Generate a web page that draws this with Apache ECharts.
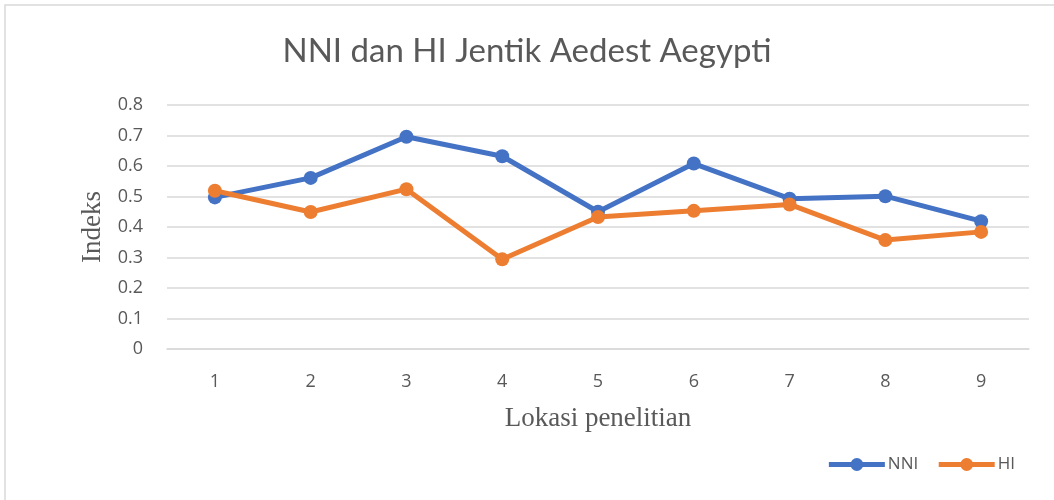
<!DOCTYPE html>
<html>
<head>
<meta charset="utf-8">
<script src="https://cdn.jsdelivr.net/npm/echarts@6/dist/echarts.min.js"></script>
<style>
  html, body { margin: 0; padding: 0; background: #fff; }
  #chart { width: 1054px; height: 500px; }
</style>
</head>
<body>
<div id="chart"></div>
<script>
// data
var lokasi = ['1', '2', '3', '4', '5', '6', '7', '8', '9'];
var nniData = [0.497, 0.561, 0.696, 0.632, 0.450, 0.608, 0.493, 0.501, 0.419];
var hiData = [0.519, 0.449, 0.524, 0.294, 0.433, 0.453, 0.474, 0.357, 0.384];

var chart = echarts.init(document.getElementById('chart'));

var option = {
    backgroundColor: '#fff',
    color: ['#4472C4', '#ED7D31'],
    title: {
        text: 'NNI dan HI Jentik Aedest Aegypti',
        left: 'center',
        top: 30,
        textStyle: {
            fontFamily: 'Lato',
            fontWeight: 'normal',
            fontSize: 33,
            color: '#595959'
        }
    },
    legend: {
        right: 34,
        top: 451,
        itemWidth: 56,
        itemHeight: 16,
        itemGap: 18,
        lineStyle: { width: 5 },
        textStyle: { fontFamily: 'Open Sans', fontSize: 17, color: '#595959', padding: [0, 0, 0, -2] },
        data: ['NNI', 'HI']
    },
    grid: {
        left: 167,
        right: 25,
        top: 105,
        bottom: 151
    },
    xAxis: {
        type: 'category',
        data: lokasi,
        boundaryGap: true,
        name: 'Lokasi penelitian',
        nameLocation: 'middle',
        nameGap: 56,
        nameTextStyle: { fontFamily: 'Liberation Serif', fontSize: 27, color: '#595959' },
        axisLine: { lineStyle: { color: '#d9d9d9', width: 1.5 } },
        axisTick: { show: false },
        axisLabel: { margin: 24, fontFamily: 'Open Sans', fontSize: 18, color: '#595959' }
    },
    yAxis: {
        type: 'value',
        min: 0,
        max: 0.8,
        interval: 0.1,
        name: 'Indeks',
        nameLocation: 'middle',
        nameGap: 60,
        nameTextStyle: { fontFamily: 'Liberation Serif', fontSize: 27, color: '#595959' },
        axisLine: { show: false },
        axisTick: { show: false },
        axisLabel: {
            margin: 24,
            fontFamily: 'Open Sans',
            fontSize: 18,
            color: '#595959',
            formatter: function (v) { return Math.round(v * 10) / 10 + ''; }
        },
        splitLine: { lineStyle: { color: '#d9d9d9', width: 1.5 } }
    },
    series: [
        {
            name: 'NNI',
            type: 'line',
            data: nniData,
            symbol: 'circle',
            symbolSize: 14,
            lineStyle: { width: 5 },
            itemStyle: { color: '#4472C4' }
        },
        {
            name: 'HI',
            type: 'line',
            data: hiData,
            symbol: 'circle',
            symbolSize: 14,
            lineStyle: { width: 5 },
            itemStyle: { color: '#ED7D31' }
        }
    ],
    graphic: [
        {
            type: 'rect',
            shape: { x: 5, y: 5, width: 1200, height: 800 },
            style: { fill: null, stroke: '#d9d9d9', lineWidth: 1.5 },
            silent: true
        }
    ]
};

chart.setOption(option);
</script>
</body>
</html>
